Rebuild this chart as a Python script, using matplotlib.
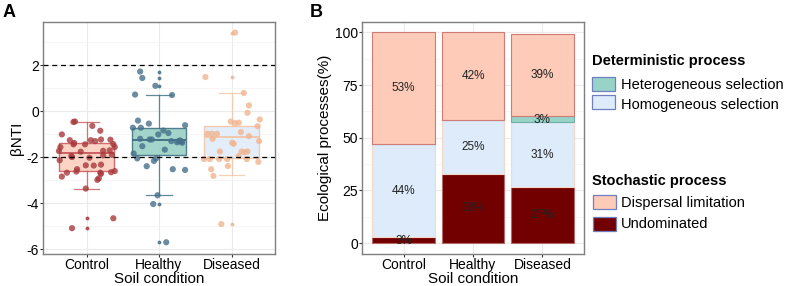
import matplotlib
matplotlib.use("Agg")
import matplotlib.pyplot as plt
import numpy as np
from matplotlib.patches import Rectangle
from matplotlib.ticker import MultipleLocator

plt.rcParams['font.family'] = ['Liberation Sans', 'DejaVu Sans']
plt.rcParams['axes.unicode_minus'] = False

W, H = 785, 286
fig = plt.figure(figsize=(W / 100, H / 100), dpi=100)

def fx(px):
    return px / W

def fy(py):
    return 1 - py / H

# ---------------- data: panel A ----------------
groups = ["Control", "Healthy", "Diseased"]

control_y = [-0.45, -0.47, -0.64, -0.85, -1.01, -1.26, -1.44, -1.38, -1.44, -1.26, -1.30, -1.23,
             -1.24, -1.43, -1.56, -1.56, -1.73, -1.76, -1.72, -1.70, -1.89, -1.92, -1.99, -2.02,
             -2.84, -2.67, -2.62, -2.52, -2.35, -2.67, -2.72, -2.92, -2.98, -2.65, -2.60, -2.36,
             -2.32, -2.13, -1.95, -3.36, -5.08, -4.65]
control_dx = [-0.16, -0.18, 0.08, 0.19, -0.34, -0.23, -0.18, -0.17, -0.02, 0.06, 0.12, 0.20,
              0.33, 0.37, 0.39, -0.36, -0.38, -0.08, 0.23, 0.32, 0.35, 0.23, -0.20, 0.04,
              -0.34, -0.27, -0.14, -0.13, -0.01, 0.19, 0.20, 0.17, 0.15, 0.34, 0.39, 0.10,
              0.20, -0.37, -0.21, -0.01, -0.20, 0.37]

healthy_y = [1.72, 1.44, 1.10, 0.72, 0.70, -0.41, -0.54, -0.72, -0.72, -0.61, -0.84, -0.95,
             -1.01, -1.20, -1.23, -1.23, -1.30, -1.27, -1.32, -1.37, -1.30, -1.35, -1.52, -1.67,
             -1.84, -2.05, -2.05, -2.16, -2.39, -2.52, -2.55, -3.65, -4.03, -5.69]
healthy_dx = [-0.26, -0.23, -0.05, -0.33, 0.18, -0.29, -0.14, -0.36, -0.25, 0.36, 0.06, 0.13,
              -0.01, -0.26, -0.13, -0.10, 0.17, 0.29, 0.31, 0.32, 0.27, 0.25, -0.23, 0.08,
              -0.35, -0.30, -0.04, -0.07, -0.17, 0.19, 0.36, -0.02, -0.08, 0.10]

diseased_y = [3.41, 1.48, 0.79, 0.25, -0.07, -0.45, -0.52, -0.50, -0.98, -0.98, -0.98, -0.91,
              -1.08, -1.20, -1.37, -1.42, -1.75, -1.75, -1.78, -1.75, -2.08, -2.08, -2.08, -2.08,
              -2.08, -2.52, -2.81, -2.38, -1.95, -0.36, -0.65, -1.30, -2.20, -4.90]
diseased_dx = [0.05, -0.36, 0.17, 0.24, 0.22, -0.01, 0.05, 0.10, -0.33, -0.27, -0.20, 0.13,
               0.24, -0.26, 0.01, 0.03, -0.16, 0.14, 0.18, 0.22, -0.38, -0.30, -0.17, -0.06,
               0.21, -0.28, -0.25, -0.05, 0.10, 0.39, 0.36, 0.38, 0.37, -0.14]

# box statistics
box_q1 = [-2.61, -1.89, -2.02]
box_med = [-1.83, -1.27, -1.10]
box_q3 = [-1.37, -0.72, -0.65]
box_lo = [-3.36, -3.65, -2.78]
box_hi = [-0.45, 0.72, 0.79]
box_out = [[-4.65, -5.08], [1.10, 1.44, 1.72, -4.03, -5.69], [3.41, 1.48, -4.90]]

pt_colors = ["#A8393C", "#46708A", "#F0B58F"]
box_fill = ["#FBCDBB", "#93CEC1", "#E2EDFB"]
box_edge = ["#C9565C", "#3C6C80", "#F3C5A6"]
box_alpha = [0.85, 0.85, 0.9]

# ---------------- data: panel B ----------------
bar_cats = ["Control", "Healthy", "Diseased"]
undominated = [2.8, 33.0, 26.7]
homogeneous = [44.1, 25.2, 30.6]
heterogeneous = [0.0, 0.0, 2.8]
dispersal = [53.1, 41.8, 38.9]
lab_undom = ["3%", "33%", "27%"]
lab_homo = ["44%", "25%", "31%"]
lab_hetero = ["", "", "3%"]
lab_disp = ["53%", "42%", "39%"]

c_disp = "#FDCBB8"
c_homo = "#DDEBFB"
c_het = "#98D3C8"
c_und = "#730000"

grid_c = "#EBEBEB"
border_c = "#7F7F7F"

def style_axes(ax):
    for s in ax.spines.values():
        s.set_color(border_c)
        s.set_linewidth(1.0)
    ax.tick_params(axis='both', colors="#333333", labelcolor="black", labelsize=10,
                   length=2, width=0.8, pad=1)
    ax.tick_params(which='minor', length=0)
    ax.grid(True, which='major', color=grid_c, lw=0.8)
    ax.grid(True, which='minor', color="#F3F3F3", lw=0.5)
    ax.set_axisbelow(True)

# ---------------- Panel A ----------------
axA = fig.add_axes([fx(43), fy(254), fx(275) - fx(43), fy(22) - fy(254)])
style_axes(axA)

stats = []
for i in range(3):
    stats.append(dict(med=box_med[i], q1=box_q1[i], q3=box_q3[i], whislo=box_lo[i],
                      whishi=box_hi[i], fliers=box_out[i]))
for i in range(3):
    axA.bxp([stats[i]], positions=[i + 1], widths=0.75, patch_artist=True,
            showfliers=True, capwidths=0.35, manage_ticks=False,
            boxprops=dict(facecolor=box_fill[i], edgecolor=box_edge[i], lw=1.0, alpha=box_alpha[i]),
            medianprops=dict(color=box_edge[i], lw=1.3),
            whiskerprops=dict(color=box_edge[i], lw=0.9, alpha=0.8),
            capprops=dict(color=box_edge[i], lw=0.9, alpha=0.8),
            flierprops=dict(marker='o', markersize=1.8, markerfacecolor=pt_colors[i],
                            markeredgecolor=pt_colors[i], alpha=0.8), zorder=2)

for i, (ys, dxs) in enumerate([(control_y, control_dx), (healthy_y, healthy_dx),
                               (diseased_y, diseased_dx)]):
    xs = np.array(dxs) + i + 1
    axA.scatter(xs, ys, s=20, color=pt_colors[i], alpha=0.8, edgecolors='none', zorder=3)

axA.set_xlim(0.4, 3.6)
axA.set_ylim(-6.2, 3.87)
axA.yaxis.set_major_locator(MultipleLocator(2))
axA.yaxis.set_minor_locator(MultipleLocator(1))
axA.set_xticks([1, 2, 3])
axA.set_xticklabels(groups)
axA.xaxis.grid(False, which='minor')

axA.axhline(2, color="black", ls=(0, (4, 3)), lw=0.9, zorder=4)
axA.axhline(-2, color="black", ls=(0, (4, 3)), lw=0.9, zorder=4)
axA.set_xlabel("Soil condition", fontsize=11, labelpad=0)
axA.set_ylabel("βNTI", fontsize=11, labelpad=2)
fig.text(fx(3), fy(17), "A", fontsize=13, fontweight='bold', va='baseline')

# ---------------- Panel B ----------------
axB = fig.add_axes([fx(362), fy(254), fx(584) - fx(362), fy(22) - fy(254)])
style_axes(axB)
xb = np.arange(1, 4)

und = np.array(undominated)
hom = np.array(homogeneous)
het = np.array(heterogeneous)
dis = np.array(dispersal)
bw = 0.9
axB.bar(xb, und, bw, color=c_und, edgecolor="#B56A6A", lw=0.8, zorder=2)
axB.bar(xb, hom, bw, bottom=und, color=c_homo, edgecolor="#F6D8C8", lw=0.8, zorder=2)
axB.bar(xb, het, bw, bottom=und + hom, color=c_het, edgecolor="#6FB0A3", lw=0.8, zorder=2)
axB.bar(xb, dis, bw, bottom=und + hom + het, color=c_disp, edgecolor="#D07B78", lw=0.8, zorder=2)

for i in range(3):
    axB.text(xb[i], und[i] / 2 + (0.0 if und[i] > 5 else -0.5), lab_undom[i], ha='center',
             va='center', fontsize=8.5, color="#222222", zorder=3)
    axB.text(xb[i], und[i] + hom[i] / 2, lab_homo[i], ha='center', va='center',
             fontsize=8.5, color="#222222", zorder=3)
    if lab_hetero[i]:
        axB.text(xb[i], und[i] + hom[i] + het[i] / 2 - 0.3, lab_hetero[i], ha='center',
                 va='center', fontsize=8.5, color="#222222", zorder=3)
    axB.text(xb[i], und[i] + hom[i] + het[i] + dis[i] / 2, lab_disp[i], ha='center',
             va='center', fontsize=8.5, color="#222222", zorder=3)

axB.set_xlim(0.4, 3.6)
axB.set_ylim(-5.2, 104.9)
axB.yaxis.set_major_locator(MultipleLocator(25))
axB.yaxis.set_minor_locator(MultipleLocator(12.5))
axB.set_xticks(xb)
axB.set_xticklabels(bar_cats)
axB.xaxis.grid(False, which='minor')

axB.set_xlabel("Soil condition", fontsize=11, labelpad=0)
axB.set_ylabel("Ecological processes(%)", fontsize=11, labelpad=2)
fig.text(fx(310), fy(17), "B", fontsize=13, fontweight='bold', va='baseline')

# ---------------- Legend (manual) ----------------
key_edge = "#6F7FC0"
def legend_key(x, y, color):
    fig.add_artist(Rectangle((fx(x), fy(y + 14)), fx(23), 14 / H, transform=fig.transFigure,
                             facecolor=color, edgecolor=key_edge, lw=0.9))

fig.text(fx(592), fy(61), "Deterministic process", fontsize=10.5, fontweight='bold',
         va='center', ha='left')
legend_key(592, 77, c_het)
fig.text(fx(621), fy(84.5), "Heterogeneous selection", fontsize=10.5, va='center', ha='left')
legend_key(592, 95, c_homo)
fig.text(fx(621), fy(105), "Homogeneous selection", fontsize=10.5, va='center', ha='left')

fig.text(fx(592), fy(181), "Stochastic process", fontsize=10.5, fontweight='bold',
         va='center', ha='left')
legend_key(593, 195, c_disp)
fig.text(fx(621), fy(203), "Dispersal limitation", fontsize=10.5, va='center', ha='left')
legend_key(593, 217, c_und)
fig.text(fx(621), fy(224.5), "Undominated", fontsize=10.5, va='center', ha='left')

fig.savefig("out.png", dpi=100)
